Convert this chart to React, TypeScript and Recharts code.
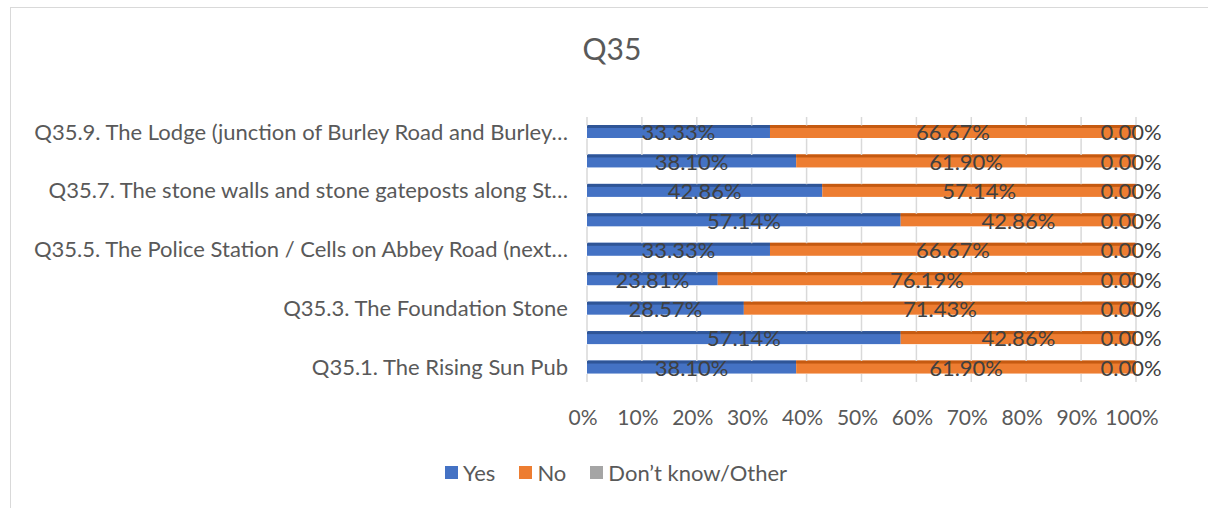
import React from 'react';
import {
  BarChart,
  Bar,
  XAxis,
  YAxis,
  ReferenceLine,
  LabelList,
} from 'recharts';

// top to bottom, as the chart shows them
const categories = [
  'Q35.9. The Lodge (junction of Burley Road and Burley…',
  'Q35.8.',
  'Q35.7. The stone walls and stone gateposts along St…',
  'Q35.6.',
  'Q35.5. The Police Station / Cells on Abbey Road (next…',
  'Q35.4.',
  'Q35.3. The Foundation Stone',
  'Q35.2.',
  'Q35.1. The Rising Sun Pub',
];
const yesValues = [33.33, 38.1, 42.86, 57.14, 33.33, 23.81, 28.57, 57.14, 38.1];
const noValues = [66.67, 61.9, 57.14, 42.86, 66.67, 76.19, 71.43, 42.86, 61.9];
const otherValues = [0, 0, 0, 0, 0, 0, 0, 0, 0];
const xTicks = [0, 10, 20, 30, 40, 50, 60, 70, 80, 90, 100];

const series = [
  { key: 'yes', name: 'Yes', color: '#4472C4', edge: '#2F5597', dx: 0 },
  { key: 'no', name: 'No', color: '#ED7D31', edge: '#C55A11', dx: 0 },
  { key: 'other', name: 'Don\u2019t know/Other', color: '#A5A5A5', edge: '#7F7F7F', dx: -5 },
];

const data = categories.map((name, i) => ({
  name,
  yes: yesValues[i],
  no: noValues[i],
  other: otherValues[i],
}));

const FONT = 'Lato, "Noto Sans", sans-serif';
const TEXT = '#595959';

// grid lines sit on top of the bars, so dash them to show only in the gaps
// (band = 265 / 9 rows, bar 13px with an 8px offset inside the band)
const GRID_DASH = '8 13 8.444 0';

// flat bar with a darker strip on top, standing in for the 3D bevel
const makeShape = (color: string, edge: string) => (props: any) => {
  const { x, y, width, height } = props;
  if (!width || width <= 0) return <g />;
  return (
    <g>
      <rect x={x} y={y} width={width} height={height} fill={color} />
      <rect x={x} y={y} width={width} height={3} fill={edge} />
    </g>
  );
};

const pct = (v: any) => `${Number(v).toFixed(2)}%`;

export default function App() {
  return (
    <div
      style={{
        position: 'absolute',
        left: 0,
        top: 0,
        width: 1208,
        height: 508,
        background: '#fff',
        fontFamily: FONT,
      }}
    >
      <div
        style={{
          position: 'absolute',
          left: 10,
          top: 7,
          right: 0,
          bottom: 0,
          borderLeft: '1px solid #D9D9D9',
          borderTop: '1px solid #D9D9D9',
        }}
      />
      <div
        style={{
          position: 'absolute',
          top: 30,
          left: 0,
          width: 1224,
          textAlign: 'center',
          fontSize: 30,
          color: TEXT,
        }}
      >
        Q35
      </div>
      <div style={{ position: 'absolute', left: 0, top: 0 }}>
        <BarChart
          width={1208}
          height={508}
          data={data}
          layout="vertical"
          barSize={13}
          margin={{ top: 117, right: 72, bottom: 96, left: 10 }}
        >
          <XAxis
            type="number"
            domain={[0, 100]}
            ticks={xTicks}
            tickFormatter={(v) => `${v}%`}
            axisLine={false}
            tickLine={false}
            tick={{ fill: TEXT, fontSize: 21, fontFamily: FONT, dx: -4, dy: 20 }}
          />
          <YAxis
            type="category"
            dataKey="name"
            width={577}
            interval={1}
            axisLine={false}
            tickLine={false}
            tickMargin={13}
            tick={{ fill: TEXT, fontSize: 22, fontFamily: FONT }}
          />
          {xTicks.map((t) => (
            <ReferenceLine
              key={`grid-${t}`}
              x={t}
              stroke="#D9D9D9"
              strokeWidth={1.5}
              strokeDasharray={GRID_DASH}
            />
          ))}
          {series.map((s) => (
            <Bar
              key={s.key}
              dataKey={s.key}
              name={s.name}
              stackId="a"
              fill={s.color}
              shape={makeShape(s.color, s.edge)}
              isAnimationActive={false}
            >
              <LabelList
                dataKey={s.key}
                position="center"
                formatter={pct}
                fill="#404040"
                fontSize={22}
                fontFamily={FONT}
                offset={0}
                dx={s.dx}
                dy={1}
              />
            </Bar>
          ))}
        </BarChart>
      </div>
      <div
        style={{
          position: 'absolute',
          top: 459,
          left: 0,
          width: 1208,
          display: 'flex',
          justifyContent: 'center',
          paddingLeft: 48,
          boxSizing: 'border-box',
          fontSize: 22,
          color: TEXT,
        }}
      >
        {series.map((s) => (
          <span
            key={s.key}
            style={{ display: 'flex', alignItems: 'center', marginRight: 24 }}
          >
            <span
              style={{
                width: 13,
                height: 13,
                background: s.color,
                marginRight: 5,
                display: 'inline-block',
              }}
            />
            {s.name}
          </span>
        ))}
      </div>
    </div>
  );
}
